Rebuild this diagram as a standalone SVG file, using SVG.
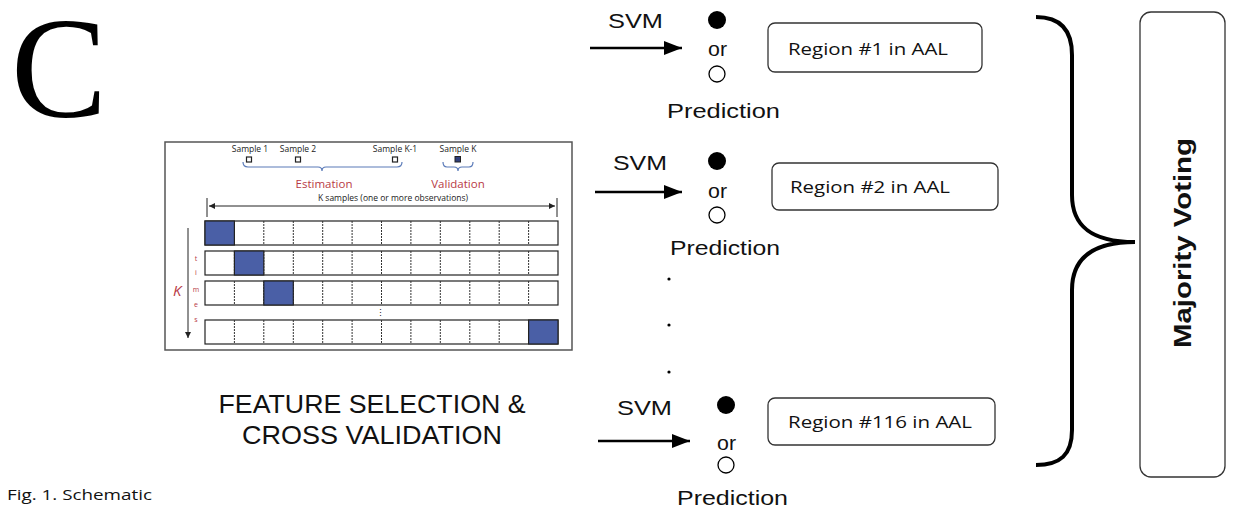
<svg xmlns="http://www.w3.org/2000/svg" width="1233" height="519" viewBox="0 0 1233 519">
<style>
.sans{font-family:"Liberation Sans",Arial,sans-serif;fill:#111}
.cal{font-family:"Open Sans","Liberation Sans",sans-serif;fill:#111}
.lbl{font-family:"Liberation Sans",Arial,sans-serif;font-size:20px;fill:#111}
.box{fill:#fff;stroke:#333;stroke-width:1.3}
.conn{stroke:#000;stroke-width:2.5;fill:none}
.red{fill:#b83a45;font-family:"Open Sans","Liberation Sans",sans-serif}
.small{font-family:"Open Sans","Liberation Sans",sans-serif;font-size:8.5px;fill:#222}
.cell{fill:#fff;stroke:#222;stroke-width:1.2}
.div{stroke:#333;stroke-width:1;stroke-dasharray:2 1}
.blue{fill:#4a5fa6;stroke:#222;stroke-width:1.2}
.thin{stroke:#222;stroke-width:1;fill:none}
.brace{stroke:#5a7ab8;stroke-width:1.2;fill:none}
</style>
<defs>
<marker id="ah" markerUnits="userSpaceOnUse" markerWidth="18" markerHeight="14" refX="18" refY="7" orient="auto">
<path d="M0,0 L18,7 L0,14 z" fill="#000"/>
</marker>
<marker id="sa" markerUnits="userSpaceOnUse" markerWidth="6" markerHeight="6" refX="6" refY="3" orient="auto-start-reverse">
<path d="M0,0 L6,3 L0,6 z" fill="#222"/>
</marker>
<g id="row">
<rect class="cell" x="205" y="0" width="353" height="24"/>
<path class="div" d="M234.4,0V24M263.8,0V24M293.3,0V24M322.7,0V24M352.1,0V24M381.5,0V24M410.9,0V24M440.3,0V24M469.8,0V24M499.2,0V24M528.6,0V24"/>
</g>
</defs>
<rect width="1233" height="519" fill="#fff"/>

<text x="11" y="117" font-family="'Liberation Serif','Times New Roman',serif" font-size="144" fill="#000">C</text>
<text class="cal" x="7" y="500" font-size="14" textLength="145" lengthAdjust="spacingAndGlyphs">Fig. 1. Schematic</text>

<g id="cross-validation">
<rect x="165" y="142" width="407" height="208" fill="#fff" stroke="#555" stroke-width="1.5"/>
<text class="small" x="250" y="152" text-anchor="middle">Sample 1</text>
<text class="small" x="298" y="152" text-anchor="middle">Sample 2</text>
<text class="small" x="395" y="152" text-anchor="middle">Sample K-1</text>
<text class="small" x="458" y="152" text-anchor="middle">Sample K</text>
<rect x="246.5" y="157" width="5" height="5" fill="#fff" stroke="#222" stroke-width="1.2"/>
<rect x="295.5" y="157" width="5" height="5" fill="#fff" stroke="#222" stroke-width="1.2"/>
<rect x="392.5" y="157" width="5" height="5" fill="#fff" stroke="#222" stroke-width="1.2"/>
<rect x="455" y="156.5" width="5.5" height="5.5" fill="#2f3f7a" stroke="#222" stroke-width="1"/>
<path class="brace" d="M243,162 Q243,167 248,167 H318 Q322,167 322,171 Q322,167 326,167 H397 Q402,167 402,162"/>
<path class="brace" d="M443,162 Q443,167 447,167 H454 Q458,167 458,171 Q458,167 462,167 H469 Q473,167 473,162"/>
<text class="red" x="324" y="188" font-size="11.5" text-anchor="middle">Estimation</text>
<text class="red" x="458" y="188" font-size="11.5" text-anchor="middle">Validation</text>
<text class="small" x="393" y="201" text-anchor="middle">K samples (one or more observations)</text>
<line class="thin" x1="209" y1="206" x2="555" y2="206" marker-start="url(#sa)" marker-end="url(#sa)"/>
<line class="thin" x1="207" y1="198" x2="207" y2="217"/>
<line class="thin" x1="557" y1="198" x2="557" y2="217"/>
<use href="#row" y="221"/>
<use href="#row" y="251"/>
<use href="#row" y="281"/>
<use href="#row" y="320"/>
<rect class="blue" x="205" y="221" width="29.4" height="24"/>
<rect class="blue" x="234.4" y="251" width="29.4" height="24"/>
<rect class="blue" x="263.8" y="281" width="29.5" height="24"/>
<rect class="blue" x="528.6" y="320" width="29.4" height="24"/>
<text class="small" x="380" y="316" text-anchor="middle" font-size="6">⋮</text>
<line class="thin" x1="188" y1="228" x2="188" y2="338" marker-end="url(#sa)"/>
<text class="red" x="173" y="296" font-size="15" font-style="italic">K</text>
<g class="red" font-size="7" text-anchor="middle">
<text x="196" y="261">t</text>
<text x="196" y="275">i</text>
<text x="196" y="292">m</text>
<text x="196" y="307">e</text>
<text x="196" y="322">s</text>
</g>
</g>

<g id="title">
<text class="sans" x="372" y="413" font-size="26" text-anchor="middle" textLength="307" lengthAdjust="spacingAndGlyphs">FEATURE SELECTION &amp;</text>
<text class="sans" x="372" y="444" font-size="26" text-anchor="middle" textLength="260" lengthAdjust="spacingAndGlyphs">CROSS VALIDATION</text>
</g>

<g id="prediction-1">
<text class="lbl" x="608" y="28" textLength="55" lengthAdjust="spacingAndGlyphs">SVM</text>
<circle cx="717" cy="20" r="9" fill="#000"/>
<text class="lbl" x="708" y="56" textLength="19" lengthAdjust="spacingAndGlyphs">or</text>
<circle cx="717" cy="74" r="8" fill="#fff" stroke="#000" stroke-width="1.3"/>
<text class="lbl" x="667" y="118" textLength="113" lengthAdjust="spacingAndGlyphs">Prediction</text>
</g>
<g id="region-1">
<rect x="768" y="23" width="214" height="49" rx="7" class="box"/>
<text class="cal" x="788" y="55" font-size="17" textLength="160" lengthAdjust="spacingAndGlyphs">Region #1 in AAL</text>
</g>

<g id="prediction-2">
<text class="lbl" x="613" y="170" textLength="54" lengthAdjust="spacingAndGlyphs">SVM</text>
<circle cx="717" cy="161" r="9" fill="#000"/>
<text class="lbl" x="708" y="198" textLength="19" lengthAdjust="spacingAndGlyphs">or</text>
<circle cx="717" cy="215" r="8" fill="#fff" stroke="#000" stroke-width="1.3"/>
<text class="lbl" x="670" y="255" textLength="110" lengthAdjust="spacingAndGlyphs">Prediction</text>
</g>
<g id="region-2">
<rect x="772" y="163" width="226" height="47" rx="7" class="box"/>
<text class="cal" x="790" y="193" font-size="17" textLength="160" lengthAdjust="spacingAndGlyphs">Region #2 in AAL</text>
</g>

<g id="ellipsis">
<circle cx="669" cy="279" r="1.6" fill="#000"/>
<circle cx="669" cy="325" r="1.6" fill="#000"/>
<circle cx="669" cy="372" r="1.6" fill="#000"/>
</g>

<g id="prediction-3">
<text class="lbl" x="617" y="415" textLength="55" lengthAdjust="spacingAndGlyphs">SVM</text>
<circle cx="726" cy="405" r="9" fill="#000"/>
<text class="lbl" x="717" y="450" textLength="19" lengthAdjust="spacingAndGlyphs">or</text>
<circle cx="726" cy="465" r="8" fill="#fff" stroke="#000" stroke-width="1.3"/>
<text class="lbl" x="677" y="505" textLength="111" lengthAdjust="spacingAndGlyphs">Prediction</text>
</g>
<g id="region-116">
<rect x="768" y="398" width="227" height="47" rx="7" class="box"/>
<text class="cal" x="788" y="428" font-size="17" textLength="184" lengthAdjust="spacingAndGlyphs">Region #116 in AAL</text>
</g>

<g id="majority-voting">
<rect x="1140" y="12" width="85" height="465" rx="11" class="box"/>
<text class="sans" x="0" y="0" transform="translate(1191,243) rotate(-90)" font-size="23" font-weight="bold" text-anchor="middle" textLength="210" lengthAdjust="spacingAndGlyphs">Majority Voting</text>
</g>

<g id="connectors">
<line class="conn" x1="590" y1="48" x2="682" y2="48" marker-end="url(#ah)"/>
<line class="conn" x1="595" y1="192" x2="682" y2="192" marker-end="url(#ah)"/>
<line class="conn" x1="598" y1="441" x2="690" y2="441" marker-end="url(#ah)"/>
<path d="M1036,17 C1060,17 1072,30 1072,55 V195 C1072,225 1090,242 1135,242 C1090,242 1072,260 1072,290 V430 C1072,455 1060,465 1036,465" fill="none" stroke="#000" stroke-width="4"/>
</g>
</svg>
